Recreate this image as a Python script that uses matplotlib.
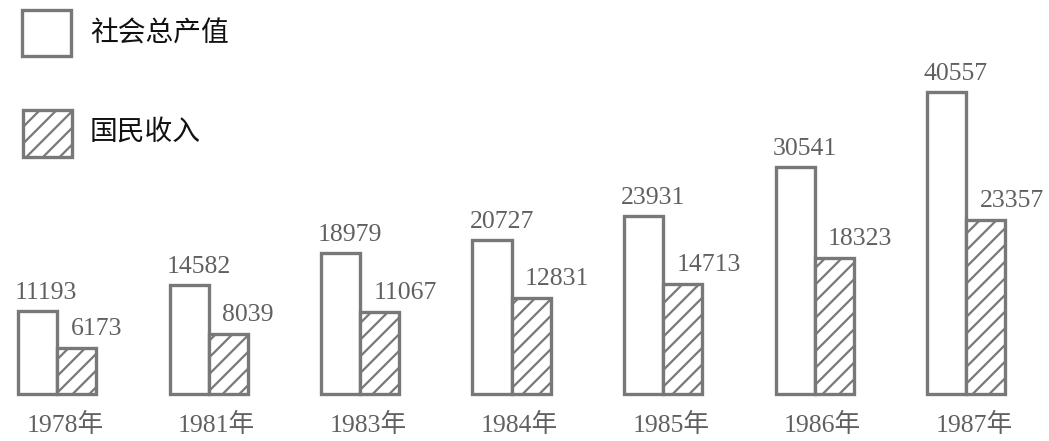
import numpy as np
import matplotlib.pyplot as plt
from matplotlib.patches import Rectangle

years = ['1978年', '1981年', '1983年', '1984年', '1985年', '1986年', '1987年']
total_output = [11193, 14582, 18979, 20727, 23931, 30541, 40557]
national_income = [6173, 8039, 11067, 12831, 14713, 18323, 23357]
legend_labels = ['社会总产值', '国民收入']

plt.rcParams['hatch.linewidth'] = 1.6
plt.rcParams['hatch.color'] = '#7a7a7a'

fig = plt.figure(figsize=(10.49, 4.41), dpi=100)
ax = fig.add_axes([0, 0, 1, 1])
ax.set_axis_off()

# pixel -> data mapping: group centre at 57 + 151.5*i, baseline at y=394
px = 151.5
scale = 302 / 40557.0
ax.set_xlim(-57 / px, (1049 - 57) / px)
ax.set_ylim(-(441 - 394) / scale, 394 / scale)

edge = '#787878'
txt = '#606060'
w = 39 / px
x = np.arange(len(years))

ax.bar(x - w / 2, total_output, w, facecolor='white', edgecolor=edge, linewidth=2.4)
ax.bar(x + w / 2, national_income, w, facecolor='white', edgecolor=edge,
       linewidth=2.4, hatch='//')

serif = ['Liberation Serif', 'Noto Sans CJK SC']
for i in range(len(years)):
    ax.text(x[i] - w - 3 / px, total_output[i] + 7 / scale, f'{total_output[i]}',
            ha='left', va='bottom', fontsize=18.5, color=txt, family=serif)
    ax.text(x[i] + w / 2 - 6 / px, national_income[i] + 8 / scale, f'{national_income[i]}',
            ha='left', va='bottom', fontsize=18.5, color=txt, family=serif)
    ax.text(x[i] + 8 / px, -31 / scale, years[i], ha='center', va='center',
            fontsize=18.5, color=txt, family=serif)

# legend drawn in figure pixels
def fig_rect(x0, y0, x1, y1, hatch=None):
    r = Rectangle((x0 / 1049, 1 - y1 / 441), (x1 - x0) / 1049, (y1 - y0) / 441,
                  transform=fig.transFigure, facecolor='white', edgecolor=edge,
                  linewidth=2.4, hatch=hatch)
    fig.add_artist(r)

fig_rect(22, 10, 71, 56)
fig_rect(23, 110, 72, 157, hatch='//')
fig.text(90 / 1049, 1 - 33 / 441, legend_labels[0], ha='left', va='center',
         fontsize=20, color='#111111', family=['Noto Sans CJK SC', 'DejaVu Sans'])
fig.text(90 / 1049, 1 - 133 / 441, legend_labels[1], ha='left', va='center',
         fontsize=20, color='#111111', family=['Noto Sans CJK SC', 'DejaVu Sans'])

fig.savefig('out.png', dpi=100, facecolor='white')
